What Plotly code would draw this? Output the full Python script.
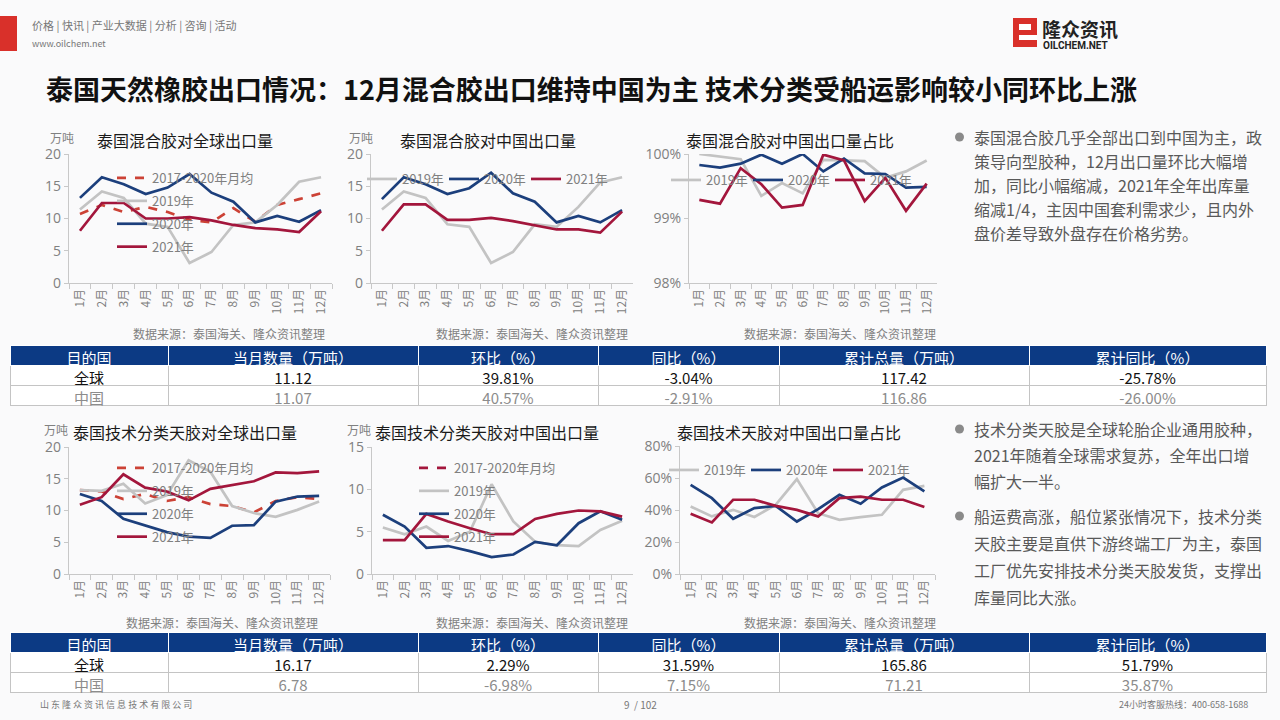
import plotly.graph_objects as go

W, H = 1280, 720
def px(x): return x / W
def py(y): return 1 - y / H

months = ["1月", "2月", "3月", "4月", "5月", "6月", "7月", "8月", "9月", "10月", "11月", "12月"]

# Chart A: 泰国混合胶对全球出口量 (万吨)
mix_global_avg = [10.7, 12.1, 11.0, 11.8, 11.0, 9.8, 9.4, 11.6, 9.5, 12.1, 13.0, 13.9]
mix_global_2019 = [11.4, 14.2, 13.2, 9.2, 8.7, 3.1, 4.8, 9.0, 9.4, 12.1, 15.7, 16.4]
mix_global_2020 = [13.2, 16.4, 15.3, 13.8, 14.8, 16.9, 14.0, 12.6, 9.4, 10.4, 9.5, 11.3]
mix_global_2021 = [8.1, 12.4, 12.4, 10.0, 10.0, 10.2, 9.7, 9.0, 8.5, 8.3, 7.9, 11.12]

# Chart B: 泰国混合胶对中国出口量 (万吨)
mix_china_2019 = [11.4, 14.2, 13.2, 9.1, 8.7, 3.1, 4.8, 9.1, 8.7, 11.8, 15.6, 16.4]
mix_china_2020 = [13.0, 16.4, 15.3, 13.8, 14.7, 17.1, 13.9, 12.6, 9.4, 10.4, 9.4, 11.3]
mix_china_2021 = [8.1, 12.2, 12.2, 9.8, 9.8, 10.1, 9.6, 9.0, 8.3, 8.3, 7.8, 11.07]

# Chart C: 泰国混合胶对中国出口量占比 (%)
mix_share_2019 = [100.0, 99.96, 99.92, 99.35, 99.55, 99.39, 99.91, 99.90, 99.89, 99.63, 99.73, 99.90]
mix_share_2020 = [99.83, 99.79, 99.85, 99.99, 99.85, 100.0, 99.73, 99.93, 99.70, 99.69, 99.48, 99.49]
mix_share_2021 = [99.29, 99.23, 99.78, 99.53, 99.17, 99.21, 99.99, 99.90, 99.27, 99.63, 99.12, 99.54]

# Chart D: 泰国技术分类天胶对全球出口量 (万吨)
tsr_global_avg = [13.2, 13.0, 11.8, 12.6, 11.5, 12.1, 11.0, 10.7, 9.7, 11.5, 12.1, 11.8]
tsr_global_2019 = [13.2, 13.1, 14.2, 11.1, 12.4, 17.9, 16.1, 10.7, 9.6, 9.0, 10.1, 11.4]
tsr_global_2020 = [12.6, 11.5, 8.7, 7.7, 6.6, 5.9, 5.7, 7.6, 7.7, 11.4, 12.2, 12.3]
tsr_global_2021 = [10.9, 12.1, 15.7, 13.6, 13.0, 11.6, 13.4, 14.0, 14.6, 16.0, 15.9, 16.17]

# Chart E: 泰国技术分类天胶对中国出口量 (万吨)
tsr_china_2019 = [5.5, 4.7, 5.6, 3.9, 5.0, 10.6, 6.2, 3.8, 3.4, 3.3, 5.2, 6.3]
tsr_china_2020 = [7.0, 5.6, 3.1, 3.3, 2.7, 2.0, 2.3, 3.8, 3.4, 6.0, 7.4, 6.4]
tsr_china_2021 = [4.0, 4.0, 7.1, 6.2, 5.4, 4.7, 4.7, 6.5, 7.1, 7.5, 7.4, 6.78]

# Chart F: 泰国技术天胶对中国出口量占比 (%)
tsr_share_2019 = [42.2, 36.0, 40.1, 35.6, 43.2, 59.3, 38.0, 33.9, 35.6, 37.0, 52.6, 55.1]
tsr_share_2020 = [55.7, 47.4, 34.5, 41.2, 42.6, 32.8, 40.5, 49.5, 43.9, 54.1, 60.3, 51.6]
tsr_share_2021 = [37.6, 32.2, 46.4, 46.4, 42.6, 40.1, 36.0, 47.4, 48.4, 46.4, 46.4, 41.9]

# Tables
table_header = ["目的国", "当月数量（万吨）", "环比（%）", "同比（%）", "累计总量（万吨）", "累计同比（%）"]
regions = ["全球", "中国"]
mix_month_qty = ["11.12", "11.07"]
mix_mom = ["39.81%", "40.57%"]
mix_yoy = ["-3.04%", "-2.91%"]
mix_cum = ["117.42", "116.86"]
mix_cum_yoy = ["-25.78%", "-26.00%"]
tsr_month_qty = ["16.17", "6.78"]
tsr_mom = ["2.29%", "-6.98%"]
tsr_yoy = ["31.59%", "7.15%"]
tsr_cum = ["165.86", "71.21"]
tsr_cum_yoy = ["51.79%", "35.87%"]

C19 = "#c3c3c3"
C20 = "#1c3f7c"
C21 = "#a3163c"
CAVG = "#cc4236"
FONT = "Noto Sans CJK SC"
GRAY = "#808080"

fig = go.Figure()

def add_line(y, color, name, xa, ya, legend, dash=None, group=None):
    fig.add_trace(go.Scatter(
        x=months if y is not None else [None], y=y if y is not None else [None],
        mode="lines", name=name,
        line=dict(color=color, width=2.7, dash=dash),
        xaxis=xa, yaxis=ya, legend=legend, legendgroup=group,
        hoverinfo="skip"))

# A
add_line(mix_global_avg, CAVG, "2017-2020年月均", "x", "y", "legend", "dash", "a1")
add_line(mix_global_2019, C19, "2019年", "x", "y", "legend", None, "a2")
add_line(mix_global_2020, C20, "2020年", "x", "y", "legend", None, "a3")
add_line(mix_global_2021, C21, "2021年", "x", "y", "legend", None, "a4")
# B
add_line(mix_china_2019, C19, "2019年", "x2", "y2", "legend2")
add_line(mix_china_2020, C20, "2020年", "x2", "y2", "legend2")
add_line(mix_china_2021, C21, "2021年", "x2", "y2", "legend2")
# C
add_line(mix_share_2019, C19, "2019年", "x3", "y3", "legend3")
add_line(mix_share_2020, C20, "2020年", "x3", "y3", "legend3")
add_line(mix_share_2021, C21, "2021年", "x3", "y3", "legend3")
# D
add_line(tsr_global_avg, CAVG, "2017-2020年月均", "x4", "y4", "legend4", "dash", "d1")
add_line(tsr_global_2019, C19, "2019年", "x4", "y4", "legend4", None, "d2")
add_line(tsr_global_2020, C20, "2020年", "x4", "y4", "legend4", None, "d3")
add_line(tsr_global_2021, C21, "2021年", "x4", "y4", "legend4", None, "d4")
# E
add_line(None, C21, "2017-2020年月均", "x5", "y5", "legend5", "dash", "e1")
add_line(tsr_china_2019, C19, "2019年", "x5", "y5", "legend5", None, "e2")
add_line(tsr_china_2020, C20, "2020年", "x5", "y5", "legend5", None, "e3")
add_line(tsr_china_2021, C21, "2021年", "x5", "y5", "legend5", None, "e4")
# F
add_line(tsr_share_2019, C19, "2019年", "x6", "y6", "legend6")
add_line(tsr_share_2020, C20, "2020年", "x6", "y6", "legend6")
add_line(tsr_share_2021, C21, "2021年", "x6", "y6", "legend6")

# axes: (xleft, xright, ytop, ybottom, yrange, dtick, suffix)
axes = [
    (69, 332, 154, 283, [0, 20], 5, ""),
    (371, 633, 154, 283, [0, 20], 5, ""),
    (689, 937, 154, 283, [98, 100], 1, "%"),
    (69, 330, 447, 574, [0, 20], 5, ""),
    (372, 633, 447, 574, [0, 15], 5, ""),
    (680, 935, 446, 574, [0, 80], 20, "%"),
]
layout_axes = {}
for i, (x0, x1, yt, yb, yr, dt, suf) in enumerate(axes):
    k = "" if i == 0 else str(i + 1)
    layout_axes["xaxis" + k] = dict(
        domain=[px(x0), px(x1)], anchor="y" + k, type="category",
        tickson="boundaries", ticks="outside", ticklen=5, tickcolor="#c8c8c8",
        showline=True, linecolor="#c8c8c8", linewidth=1.2, showgrid=False,
        tickangle=-90, tickfont=dict(family=FONT, size=12, color=GRAY),
        range=[-0.5, 11.5], fixedrange=True, automargin=False)
    layout_axes["yaxis" + k] = dict(
        domain=[py(yb), py(yt)], anchor="x" + k, range=yr, dtick=dt,
        ticksuffix=suf, ticks="outside", ticklen=4, tickcolor="#c8c8c8",
        showline=True, linecolor="#c8c8c8", linewidth=1.2, showgrid=False,
        zeroline=False, tickfont=dict(family="Open Sans", size=14, color=GRAY),
        fixedrange=True, automargin=False)

def legend_cfg(x, y, orient, gap=0, ew=None):
    d = dict(x=px(x), y=py(y), xanchor="left", yanchor="top", orientation=orient,
             bgcolor="rgba(0,0,0,0)", font=dict(family=FONT, size=13, color=GRAY),
             itemwidth=30, tracegroupgap=gap,
             traceorder="grouped" if orient == "v" else "normal")
    if ew:
        d.update(entrywidth=ew, entrywidthmode="pixels")
    return d

fig.update_layout(
    width=W, height=H, margin=dict(l=0, r=0, t=0, b=0, pad=0), autosize=False,
    paper_bgcolor="#fafafb", plot_bgcolor="rgba(0,0,0,0)",
    showlegend=True,
    legend=legend_cfg(112, 163, "v", 3),
    legend2=legend_cfg(362, 164, "h", 0, 37),
    legend3=legend_cfg(666, 165, "h", 0, 37),
    legend4=legend_cfg(112, 453, "v", 3),
    legend5=legend_cfg(414, 453, "v", 3),
    legend6=legend_cfg(664, 455, "h", 0, 37),
    **layout_axes)

# Tables
col_widths = [158, 250, 180, 181, 250, 237]
def add_table(values, y_top):
    fig.add_trace(go.Table(
        domain=dict(x=[px(10), px(1266)], y=[py(y_top + 62), py(y_top)]),
        columnwidth=col_widths,
        header=dict(values=table_header, fill_color="#0c3a84",
                    line=dict(color="white", width=1), height=20,
                    font=dict(family=FONT, size=15, color="white"), align="center"),
        cells=dict(values=values, fill_color="rgba(255,255,255,0.92)",
                   line=dict(color="#c4c4c4", width=1), height=20, align="center",
                   font=dict(family=FONT, size=15, color=[["#111111", "#8c8c8c"]] * 6))))

add_table([regions, mix_month_qty, mix_mom, mix_yoy, mix_cum, mix_cum_yoy], 345)
add_table([regions, tsr_month_qty, tsr_mom, tsr_yoy, tsr_cum, tsr_cum_yoy], 632)

ann = []
def text(x, y, s, size, color="#333333", xanchor="left", family=FONT):
    ann.append(dict(x=px(x), y=py(y), xref="paper", yref="paper", text=s, showarrow=False,
                    xanchor=xanchor, yanchor="middle",
                    font=dict(family=family, size=size, color=color)))

# chart titles
text(185, 140, "泰国混合胶对全球出口量", 16, "#1a1a1a", "center")
text(488, 140, "泰国混合胶对中国出口量", 16, "#1a1a1a", "center")
text(790, 140, "泰国混合胶对中国出口量占比", 16, "#1a1a1a", "center")
text(185, 432, "泰国技术分类天胶对全球出口量", 16, "#1a1a1a", "center")
text(487, 432, "泰国技术分类天胶对中国出口量", 16, "#1a1a1a", "center")
text(789, 432, "泰国技术天胶对中国出口量占比", 16, "#1a1a1a", "center")
# units
for (x, y) in [(62, 137), (361, 137), (56, 429), (359, 429)]:
    text(x, y, "万吨", 12, GRAY, "center")
# sources
for (x, y) in [(327, 333), (630, 333), (938, 333), (320, 622), (630, 622), (938, 622)]:
    text(x, y, "数据来源：泰国海关、隆众资讯整理", 12, GRAY, "right")

# header
text(30, 25, "价格 | 快讯 | 产业大数据 | 分析 | 咨询 | 活动", 11, "#777777")
text(30, 43, "www.oilchem.net", 9, "#777777")
text(44, 88, "<b>泰国天然橡胶出口情况：12月混合胶出口维持中国为主 技术分类受船运影响较小同环比上涨</b>", 27, "#111111")
text(1040, 29, "<b>隆众资讯</b>", 19, "#222222")
text(1041, 45, "<b>OILCHEM.NET</b>", 10, "#222222", family="Roboto")

# right text
top_lines = ["泰国混合胶几乎全部出口到中国为主，政", "策导向型胶种，12月出口量环比大幅增",
             "加，同比小幅缩减，2021年全年出库量", "缩减1/4，主因中国套利需求少，且内外",
             "盘价差导致外盘存在价格劣势。"]
for i, s in enumerate(top_lines):
    text(972, 137 + i * 24, s, 16, "#595959")
bot_lines1 = ["技术分类天胶是全球轮胎企业通用胶种，", "2021年随着全球需求复苏，全年出口增", "幅扩大一半。"]
bot_lines2 = ["船运费高涨，船位紧张情况下，技术分类", "天胶主要是直供下游终端工厂为主，泰国",
              "工厂优先安排技术分类天胶发货，支撑出", "库量同比大涨。"]
for i, s in enumerate(bot_lines1):
    text(972, 429 + i * 26, s, 16, "#595959")
for i, s in enumerate(bot_lines2):
    text(972, 516 + i * 27, s, 16, "#595959")

# footer
text(38, 704, "山 东 隆 众 资 讯 信 息 技 术 有 限 公 司", 9, "#777777")
text(640, 704, "9  / 102", 10, "#777777", "center")
text(1250, 704, "24小时客服热线：400-658-1688", 9, "#777777", "right")

shapes = [
    dict(type="rect", xref="paper", yref="paper", x0=0, x1=px(17), y0=py(51), y1=py(16),
         fillcolor="#d9302a", line=dict(width=0)),
    dict(type="circle", xref="paper", yref="paper", x0=px(955), x1=px(964), y0=py(141.5), y1=py(132.5),
         fillcolor="#8a8a8a", line=dict(width=0)),
    dict(type="circle", xref="paper", yref="paper", x0=px(955), x1=px(964), y0=py(433.5), y1=py(424.5),
         fillcolor="#8a8a8a", line=dict(width=0)),
    dict(type="circle", xref="paper", yref="paper", x0=px(955), x1=px(964), y0=py(520.5), y1=py(511.5),
         fillcolor="#8a8a8a", line=dict(width=0)),
    dict(type="rect", xref="paper", yref="paper", x0=px(1013), x1=px(1037), y0=py(47), y1=py(18),
         fillcolor="#d9302a", line=dict(width=0)),
    dict(type="rect", xref="paper", yref="paper", x0=px(1019), x1=px(1031), y0=py(30), y1=py(24),
         fillcolor="white", line=dict(width=0)),
    dict(type="rect", xref="paper", yref="paper", x0=px(1019), x1=px(1037), y0=py(40), y1=py(35),
         fillcolor="white", line=dict(width=0)),
]
fig.update_layout(annotations=ann, shapes=shapes)

fig.write_html("out.html", config={"responsive": False, "displayModeBar": False},
               post_script="document.body.style.margin='0';document.body.style.padding='0';"
                           "document.body.style.overflow='hidden';")
